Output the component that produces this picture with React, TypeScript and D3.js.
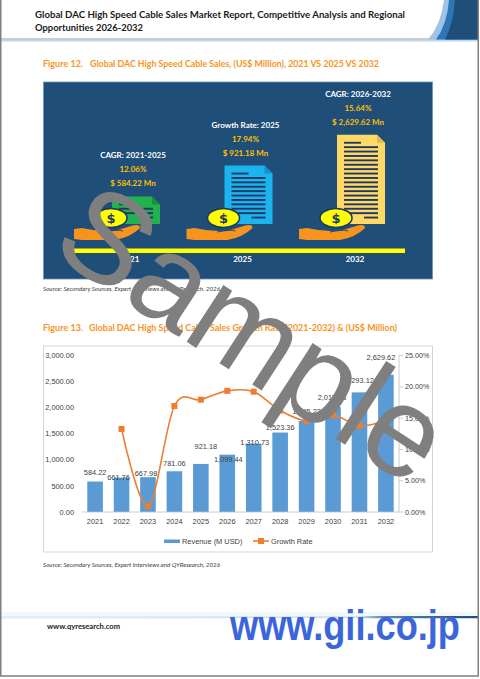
import React from "react";
import * as d3 from "d3";

// ---- Figure 13 data ----
const years = ["2021", "2022", "2023", "2024", "2025", "2026", "2027", "2028", "2029", "2030", "2031", "2032"];
const revenue = [584.22, 661.76, 667.98, 781.06, 921.18, 1099.44, 1310.73, 1523.36, 1745.23, 2015.38, 2293.12, 2629.62];
const growthRate = [null, 13.27, 0.94, 16.93, 17.94, 19.35, 19.22, 16.22, 14.56, 15.48, 13.78, 14.67];
const leftTicks = [0, 500, 1000, 1500, 2000, 2500, 3000];
const rightTicks = [0, 5, 10, 15, 20, 25];
// Excel's hand-placed data labels (px nudges)
const labelDy = [0, 9.5, 5.5, 1.5, -8.5, 14.5, 8, 4.5, 0, 0.5, -2.5, -7.5];
const labelDx = [0, -3, -2, 0, 5, 1, 1, 0, 0, -1, 0, -5];

// ---- Figure 12 data ----
const highlightYears = ["2021", "2025", "2032"];
const highlightTitles = ["CAGR: 2021-2025", "Growth Rate: 2025", "CAGR: 2026-2032"];
const highlightRates = ["12.06%", "17.94%", "15.64%"];
const highlightValues = ["$ 584.22 Mn", "$ 921.18 Mn", "$ 2,629.62 Mn"];
const docLines = [4, 11, 18];
const docColors = ["#22b14c", "#1cb4ef", "#ffd966"];
const foldColors = ["#1a8f3c", "#1590c4", "#e0b94a"];

const SOURCE = "Source: Secondary Sources, Expert Interviews and QYResearch, 2026";
const fmt = d3.format(",.2f");

const Coin = ({ cx, cy }) => (
  <g>
    <path
      d={`M${cx - 37},${cy + 11} L${cx - 29},${cy + 10} Q${cx - 12},${cy + 14} ${cx + 4},${cy + 13} L${cx + 20},${cy + 8} Q${cx + 29},${cy + 5} ${cx + 29},${cy + 10} Q${cx + 20},${cy + 19} ${cx + 4},${cy + 22} L${cx - 29},${cy + 22} L${cx - 37},${cy + 21} Z`}
      fill="#f7941d"
    />
    <path d={`M${cx - 6},${cy + 14} Q${cx + 6},${cy + 11} ${cx + 12},${cy + 13}`} fill="none" stroke="#1f4e79" strokeWidth={1} />
    <ellipse cx={cx} cy={cy} rx={16} ry={9.5} fill="#ffff00" stroke="#1f3864" strokeWidth={1.6} />
    <text x={cx} y={cy + 4.5} textAnchor="middle" fontFamily="DejaVu Sans" fontWeight="bold" fontSize={13} fill="#1f3864">
      $
    </text>
  </g>
);

export default function App() {
  const W = 480;
  const H = 679;

  // figure 12 layout
  const px = d3.scalePoint().domain(highlightYears).range([136, 361]);
  const baseY = 224;

  // figure 13 scales
  const x = d3.scaleBand().domain(years).range([82, 399]).paddingInner(0.41).paddingOuter(0.2);
  const bw = x.bandwidth();
  const y = d3.scaleLinear().domain([0, 3000]).range([512, 355.5]);
  const yR = d3.scaleLinear().domain([0, 25]).range([512, 355.5]);
  const cxOf = (i) => x(years[i]) + bw / 2;

  const line = d3
    .line()
    .defined((d) => d != null)
    .x((d, i) => cxOf(i))
    .y((d) => yR(d))
    .curve(d3.curveCardinal.tension(0));

  const tickFont = "Liberation Sans, Arial, sans-serif";
  const cal = "Lato, 'Open Sans', sans-serif";

  return (
    <svg width={W} height={H} viewBox={`0 0 ${W} ${H}`} style={{ position: "absolute", left: 0, top: 0, background: "#fff" }}>
      <defs>
        <linearGradient id="foot" x1="0" x2="1" y1="0" y2="0">
          <stop offset="0" stopColor="#e3eef7" />
          <stop offset="0.75" stopColor="#d2e6f0" />
          <stop offset="0.8" stopColor="#5a8aa8" />
          <stop offset="1" stopColor="#1f4e79" />
        </linearGradient>
      </defs>
      <rect width={W} height={H} fill="#fff" />

      {/* header */}
      <text x={35} y={18} fontFamily={cal} fontWeight="bold" fontSize={10} fill="#1a1a1a" textLength={370} lengthAdjust="spacingAndGlyphs">
        Global DAC High Speed Cable Sales Market Report, Competitive Analysis and Regional
      </text>
      <text x={35} y={30.5} fontFamily={cal} fontWeight="bold" fontSize={10} fill="#1a1a1a" textLength={108} lengthAdjust="spacingAndGlyphs">
        Opportunities 2026-2032
      </text>
      <line x1={0} x2={478} y1={39} y2={39} stroke="#9a9a9a" strokeWidth={1} />
      <line x1={0} x2={478} y1={40.8} y2={40.8} stroke="#bdd7ee" strokeWidth={1.4} />
      <path d="M444,0 Q441,25 428,39.5 L478,39.5 L478,0 Z" fill="#9dc3e6" />
      <path d="M449,0 Q447,25 436,39.5 L478,39.5 L478,0 Z" fill="#2e75b6" />
      <path d="M455,0 Q453,25 445,39.5 L478,39.5 L478,0 Z" fill="#1f4e79" />

      {/* figure 12 */}
      <text y={67} fontFamily={cal} fontWeight="bold" fontSize={9} fill="#f7941d">
        <tspan x={43} textLength={40} lengthAdjust="spacingAndGlyphs">Figure 12.</tspan>
      </text>
      <text x={90} y={67} fontFamily={cal} fontWeight="bold" fontSize={9} fill="#f7941d" textLength={289} lengthAdjust="spacingAndGlyphs">
        Global DAC High Speed Cable Sales, (US$ Million), 2021 VS 2025 VS 2032
      </text>
      <rect x={43.5} y={82} width={389} height={197} fill="#1f4e79" stroke="#6f8fb5" strokeWidth={0.8} />
      {highlightYears.map((yr, i) => {
        const c = px(yr);
        const x0 = c - 24;
        const x1 = c + 24;
        const h = docLines[i] * 4.4 + 10;
        const top = baseY - h;
        return (
          <g key={yr}>
            <path d={`M${x0},${top} H${x1 - 8} L${x1},${top + 8} V${baseY} H${x0} Z`} fill={docColors[i]} />
            <path d={`M${x1 - 8},${top} V${top + 8} H${x1} Z`} fill={foldColors[i]} />
            {d3.range(docLines[i]).map((j) => {
              const ly = top + 7 + j * 4.4;
              const a = j === 0 ? x0 + 7 : j === docLines[i] - 1 ? c + 3 : x0 + 7;
              const b = j === 0 ? c : x1 - 7;
              return <rect key={j} x={a} y={ly} width={b - a} height={1.9} fill="#1f3864" />;
            })}
            <Coin cx={x0 - 1} cy={218} />
            <text x={c - 3} y={top - 38} textAnchor="middle" fontFamily={cal} fontWeight="bold" fontSize={8} fill="#fff">
              {highlightTitles[i]}
            </text>
            <text x={c - 3} y={top - 24} textAnchor="middle" fontFamily={cal} fontWeight="bold" fontSize={8} fill="#ffc000">
              {highlightRates[i]}
            </text>
            <text x={c - 3} y={top - 10} textAnchor="middle" fontFamily={cal} fontWeight="bold" fontSize={8} fill="#ffc000">
              {highlightValues[i]}
            </text>
            <text x={c - 6} y={262} textAnchor="middle" fontFamily={cal} fontWeight="bold" fontSize={8} fill="#fff">
              {yr}
            </text>
          </g>
        );
      })}
      <rect x={66} y={248.5} width={339} height={4.5} fill="#ffff00" />
      <text x={43} y={291} fontFamily={cal} fontStyle="italic" fontSize={5.5} fill="#404040" textLength={177} lengthAdjust="spacingAndGlyphs">
        {SOURCE}
      </text>

      {/* figure 13 */}
      <text y={331} fontFamily={cal} fontWeight="bold" fontSize={9} fill="#f7941d">
        <tspan x={43} textLength={40} lengthAdjust="spacingAndGlyphs">Figure 13.</tspan>
      </text>
      <text x={89} y={331} fontFamily={cal} fontWeight="bold" fontSize={9} fill="#f7941d" textLength={308} lengthAdjust="spacingAndGlyphs">
        Global DAC High Speed Cable Sales Growth Rate (2021-2032) &amp; (US$ Million)
      </text>
      <rect x={43.5} y={346} width={389} height={206} fill="#fff" stroke="#d0d0d0" strokeWidth={0.9} />

      {leftTicks.map((t) => (
        <text key={t} x={74} y={y(t) + 2.6} textAnchor="end" fontFamily={tickFont} fontSize={7.4} fill="#404040">
          {fmt(t)}
        </text>
      ))}
      {revenue.map((v, i) => (
        <rect key={years[i]} x={x(years[i])} y={y(v)} width={bw} height={y(0) - y(v)} fill="#5b9bd5" />
      ))}
      <line x1={82} x2={399} y1={512} y2={512} stroke="#bfbfbf" strokeWidth={0.8} />
      <line x1={399} x2={399} y1={355.5} y2={512} stroke="#bfbfbf" strokeWidth={0.8} />
      {rightTicks.map((t) => (
        <g key={t}>
          <line x1={399} x2={403} y1={yR(t)} y2={yR(t)} stroke="#bfbfbf" strokeWidth={0.8} />
          <text x={405} y={yR(t) + 2.6} fontFamily={tickFont} fontSize={7.2} fill="#404040">
            {t.toFixed(2)}%
          </text>
        </g>
      ))}
      {years.map((yr) => (
        <text key={yr} x={x(yr) + bw / 2} y={524} textAnchor="middle" fontFamily={tickFont} fontSize={7.4} fill="#404040">
          {yr}
        </text>
      ))}
      {revenue.map((v, i) => (
        <text
          key={years[i]}
          x={cxOf(i) + labelDx[i]}
          y={y(v) - 9.5 + labelDy[i] + 2.6}
          textAnchor="middle"
          fontFamily={tickFont}
          fontSize={7.4}
          fill="#404040"
        >
          {fmt(v)}
        </text>
      ))}
      <path d={line(growthRate)} fill="none" stroke="#ed7d31" strokeWidth={1.6} />
      {growthRate.map((g, i) =>
        g == null ? null : <rect key={i} x={cxOf(i) - 3} y={yR(g) - 3} width={6} height={6} fill="#ed7d31" />
      )}

      {/* legend */}
      <rect x={164} y={539.5} width={16} height={3.5} fill="#5b9bd5" />
      <text x={182} y={543.5} fontFamily={tickFont} fontSize={7.4} fill="#404040">
        Revenue (M USD)
      </text>
      <line x1={253} x2={269} y1={541} y2={541} stroke="#ed7d31" strokeWidth={1.6} />
      <rect x={258} y={538} width={6} height={6} fill="#ed7d31" />
      <text x={271} y={543.5} fontFamily={tickFont} fontSize={7.4} fill="#404040">
        Growth Rate
      </text>
      <text x={43} y={567} fontFamily={cal} fontStyle="italic" fontSize={5.5} fill="#404040" textLength={177} lengthAdjust="spacingAndGlyphs">
        {SOURCE}
      </text>

      {/* footer */}
      <rect x={0} y={612} width={478} height={7} fill="#eef5fa" opacity={0.7} />
      <rect x={0} y={616} width={478} height={2.2} fill="url(#foot)" />
      <text x={47} y={629} fontFamily={cal} fontWeight="bold" fontSize={6.5} fill="#1a1a1a" textLength={73} lengthAdjust="spacingAndGlyphs">
        www.qyresearch.com
      </text>

      {/* page border */}
      <rect x={0.75} y={-2} width={477.5} height={678} fill="none" stroke="#7f7f7f" strokeWidth={1.5} />

      {/* watermarks */}
      <text
        x={0}
        y={0}
        transform="translate(230,370) rotate(33)"
        textAnchor="middle"
        fontFamily="Liberation Sans, Arial, sans-serif"
        fontSize={128}
        fill="#7f7f7f"
      >
        Sample
      </text>
      <text x={230} y={640} fontFamily="Liberation Sans, Arial, sans-serif" fontWeight="bold" fontSize={42} fill="#3b66db" textLength={230} lengthAdjust="spacingAndGlyphs">
        www.gii.co.jp
      </text>
    </svg>
  );
}
